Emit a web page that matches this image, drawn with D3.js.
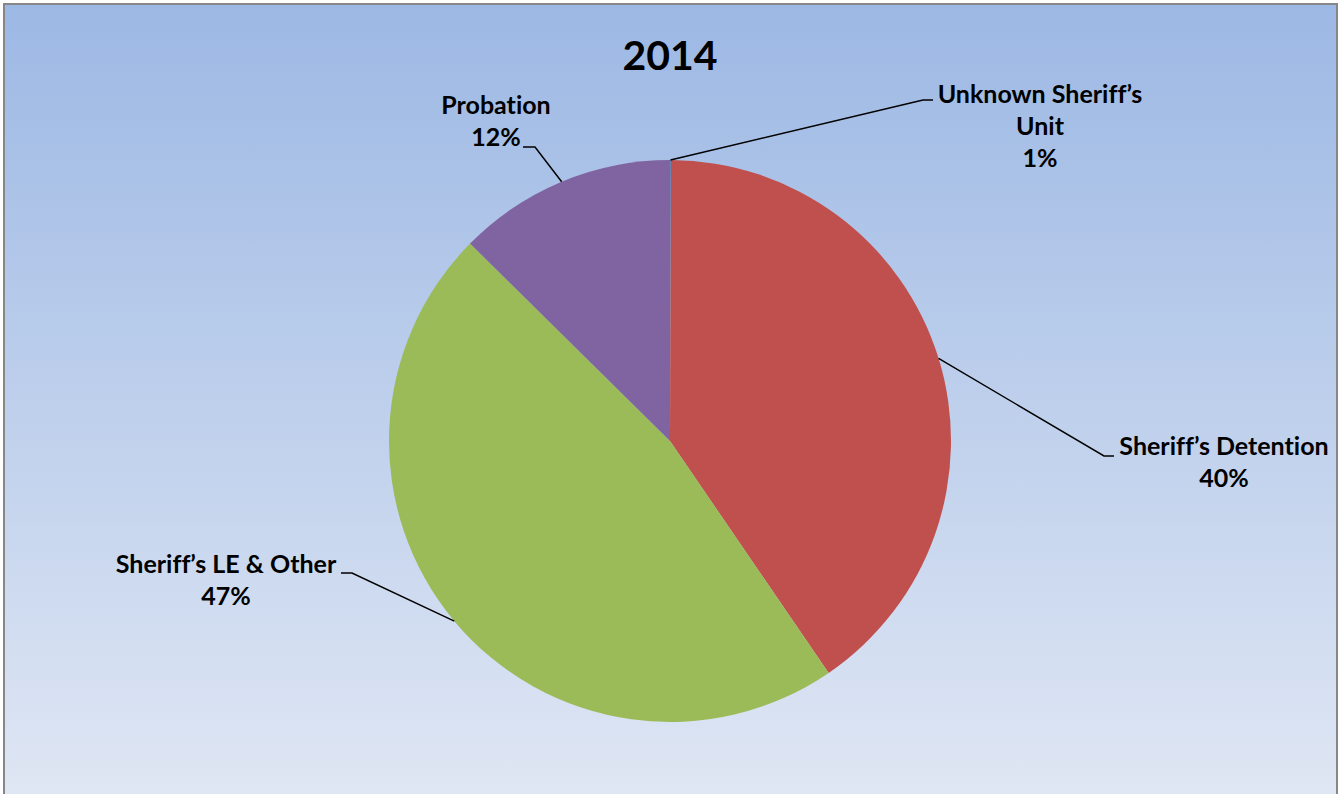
<!DOCTYPE html>
<html>
<head>
<meta charset="utf-8">
<script src="https://cdn.jsdelivr.net/npm/d3@7"></script>
<style>
  body { margin: 0; background: #fff; }
  text { font-family: Lato, "Open Sans", sans-serif; font-weight: bold; fill: #000; font-variant-ligatures: none; font-feature-settings: "liga" 0, "clig" 0; }
</style>
</head>
<body>
<svg id="mainSVG" width="1340" height="794"></svg>
<script>
var mainSVG = d3.select("#mainSVG");

// dados
var categorias = ["Unknown Sheriff\u2019s Unit", "Sheriff\u2019s Detention", "Sheriff\u2019s LE & Other", "Probation"];
var valores = [0.05, 40.4, 46.95, 12.6];
var rotulosPct = ["1%", "40%", "47%", "12%"];
var cores = ["#4F81BD", "#C0504D", "#9BBB59", "#8064A2"];
var titulo = "2014";

// linhas de texto de cada rotulo
var linhasRotulo = [
  ["Unknown Sheriff\u2019s", "Unit"],
  ["Sheriff\u2019s Detention"],
  ["Sheriff\u2019s LE & Other"],
  ["Probation"]
];

// layout dos rotulos (cotovelo da linha, fim da linha, posicao do texto)
var layoutRotulo = [
  {elbow: [923, 100], end: [933, 100], tx: 1040, ty: 103, anchor: "middle"},
  {elbow: [1104, 456], end: [1114, 456], tx: 1224, ty: 455, anchor: "middle"},
  {elbow: [352, 573], end: [341, 573], tx: 226, ty: 573, anchor: "middle"},
  {elbow: [535, 147], end: [523, 147], tx: 496, ty: 114, anchor: "middle"}
];

var cx = 670, cy = 441, raio = 281;
var alturaLinha = 32;

// fundo com gradiente
var defs = mainSVG.append("defs");
var grad = defs.append("linearGradient").attr("id", "fundo")
  .attr("x1", 0).attr("y1", 0).attr("x2", 0).attr("y2", 1);
grad.append("stop").attr("offset", "0%").attr("stop-color", "#9CB8E4");
grad.append("stop").attr("offset", "100%").attr("stop-color", "#E0E7F4");

mainSVG.append("rect")
  .attr("x", 4).attr("y", 4).attr("width", 1333).attr("height", 800)
  .attr("fill", "url(#fundo)")
  .attr("stroke", "#878787").attr("stroke-width", 2);

// titulo
mainSVG.append("text")
  .attr("x", cx).attr("y", 70)
  .attr("text-anchor", "middle")
  .style("font-size", "41px")
  .text(titulo);

// pizza
var dados = categorias.map(function (c, i) {
  return {nome: c, valor: valores[i], cor: cores[i], pct: rotulosPct[i], linhas: linhasRotulo[i], lay: layoutRotulo[i]};
});

var pie = d3.pie().sort(null).value(function (d) { return d.valor; });
var arc = d3.arc().innerRadius(0).outerRadius(raio);
var arcBorda = d3.arc().innerRadius(raio).outerRadius(raio);

var g = mainSVG.append("g").attr("transform", "translate(" + cx + "," + cy + ")");
var fatias = pie(dados);

g.selectAll("path.fatia")
  .data(fatias)
  .enter().append("path")
  .attr("class", "fatia")
  .attr("d", arc)
  .attr("fill", function (d) { return d.data.cor; });

// linhas guia
mainSVG.selectAll("polyline.guia")
  .data(fatias)
  .enter().append("polyline")
  .attr("class", "guia")
  .attr("fill", "none")
  .attr("stroke", "#000")
  .attr("stroke-width", 1.5)
  .attr("points", function (d) {
    var p = arcBorda.centroid(d);
    var l = d.data.lay;
    return [[p[0] + cx, p[1] + cy], l.elbow, l.end].map(function (q) { return q.join(","); }).join(" ");
  });

// rotulos
var rot = mainSVG.selectAll("text.rotulo")
  .data(fatias)
  .enter().append("text")
  .attr("class", "rotulo")
  .attr("text-anchor", function (d) { return d.data.lay.anchor; })
  .style("font-size", "25px");

rot.each(function (d) {
  var t = d3.select(this);
  var linhas = d.data.linhas.concat([d.data.pct]);
  linhas.forEach(function (s, i) {
    t.append("tspan")
      .attr("x", d.data.lay.tx)
      .attr("y", d.data.lay.ty + i * alturaLinha)
      .text(s);
  });
});
</script>
</body>
</html>
